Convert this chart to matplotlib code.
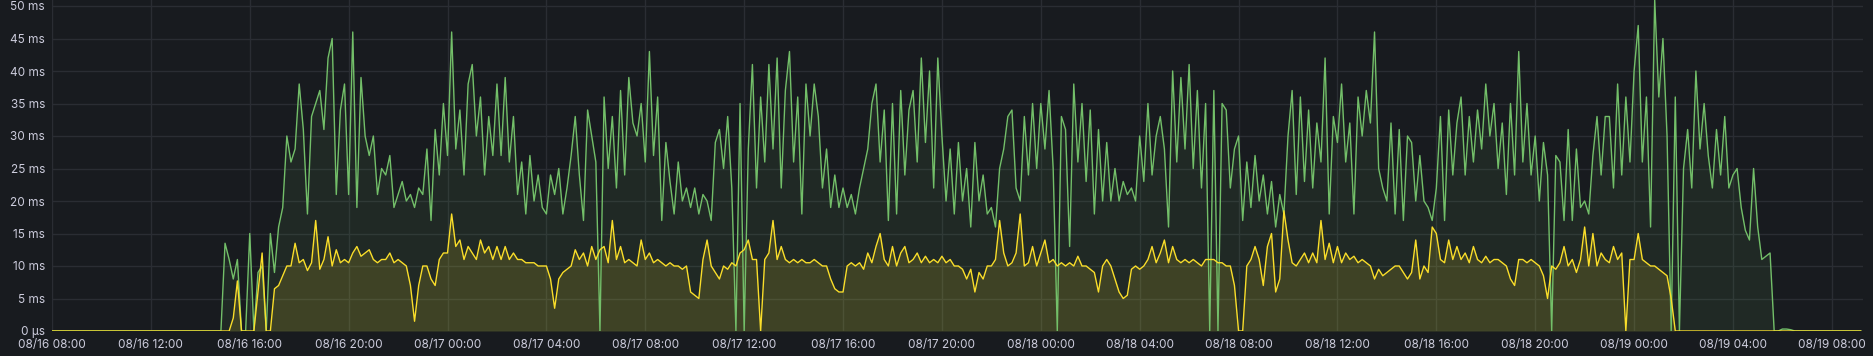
import matplotlib
matplotlib.use("Agg")
import matplotlib.pyplot as plt
import matplotlib.dates as mdates
from matplotlib.ticker import FuncFormatter, MultipleLocator
import numpy as np
import pandas as pd

# latency in ms, one value every 10 minutes
START = "2024-08-16 08:00"
idle_16 = [0] * 36  # 08:00-13:50, nothing recorded

green_16 = [  # 08/16 14:00 - 23:50
    0, 0, 0, 0, 0, 0,
    13.5, 11, 8, 11, 0, 0,
    15, 0, 9, 10, 0, 15,
    9, 16, 19, 30, 26, 28,
    38, 31, 18, 33, 35, 37,
    31, 42, 45, 21, 34, 38,
    21, 46, 19, 39, 30, 27,
    30, 21, 25, 24, 27, 19,
    21, 23, 20, 21, 19, 22,
    21, 28, 17, 31, 24, 35,
]
yellow_16 = [
    0, 0, 0, 0, 0, 0,
    0, 0, 2, 7.7, 0, 0,
    0, 0, 6, 12, 0, 0,
    6.5, 7, 8.5, 10, 10, 13.5,
    10.5, 11, 9.3, 10.5, 17, 9.5,
    11, 14.5, 10, 12.5, 10.5, 11,
    10.5, 12, 13, 11.5, 12, 12.5,
    11, 10.5, 11, 11, 12, 10.5,
    11, 10.5, 10, 7, 1.5, 7,
    10, 10, 8, 7, 11, 12,
]

green_17 = [
    27, 46, 28, 34, 24, 38,
    41, 30, 36, 24, 33, 27,
    38, 27, 39, 26, 33, 21,
    26, 18, 27, 20, 24, 19,
    18, 24, 21, 25, 18, 22,
    27, 33, 24, 17, 34, 30,
    26, 0, 36, 25, 33, 22,
    37, 24, 39, 32, 30, 35,
    26, 43, 27, 36, 17, 29,
    23, 18, 26, 20, 22, 19,
    22, 18, 21, 20, 17, 29,
    31, 25, 33, 22, 0, 35,
    0, 28, 41, 22, 36, 26,
    41, 28, 42, 22, 37, 43,
    26, 36, 18, 38, 30, 38,
    33, 22, 28, 19, 24, 19,
    22, 19, 21, 18, 22, 25,
    28, 35, 38, 26, 34, 17,
    35, 18, 37, 24, 34, 37,
    26, 42, 29, 40, 22, 42,
    30, 20, 28, 18, 29, 20,
    25, 16, 29, 20, 24, 18,
    19, 16, 25, 28, 33, 34,
    22, 20, 33, 24, 35, 25,
]
yellow_17 = [
    12, 18, 13, 14, 11, 13,
    12, 11, 14, 12, 13, 11,
    13, 11, 13, 11, 12, 11,
    11, 10.5, 10.5, 10.5, 10, 10,
    10, 8, 3.5, 8, 9, 9.5,
    10, 12.5, 11, 12, 10, 13,
    11, 12.5, 13, 10.5, 17, 11,
    13, 10.5, 11, 10.5, 10, 14,
    11, 12, 10.5, 11, 10.5, 10,
    10.5, 10, 10, 9.5, 10, 6,
    5.5, 5, 11, 14, 10, 9,
    8, 10, 9.5, 10.5, 10, 12,
    12.5, 14, 11, 11, 0, 11,
    12, 17, 11, 13, 11, 10.5,
    11, 10.5, 11, 10.5, 10.5, 11,
    10.5, 10, 10, 8, 6.5, 6,
    6, 10, 10.5, 10, 10.5, 9.5,
    12, 10.5, 13, 15, 11, 10,
    13, 10, 12, 13, 10.5, 11,
    12, 10.5, 11.5, 10.5, 11, 10.5,
    11.5, 10.5, 11, 10, 10, 9.5,
    8, 9.5, 6, 9, 8, 10,
    10, 11, 17, 12, 10, 10.5,
    12, 18, 10, 10.5, 13, 10,
]

green_18 = [
    35, 28, 37, 25, 0, 33,
    31, 13, 38, 26, 35, 23,
    34, 18, 31, 20, 29, 20,
    25, 20, 23, 21, 22, 20,
    30, 23, 35, 24, 30, 33,
    28, 16, 40, 26, 39, 28,
    41, 25, 37, 22, 35, 0,
    37, 0, 35, 34, 22, 28,
    30, 17, 26, 19, 27, 20,
    24, 18, 23, 16, 21, 18,
    30, 37, 21, 36, 23, 34,
    22, 32, 26, 42, 18, 33,
    29, 38, 26, 32, 18, 36,
    30, 37, 32, 46, 25, 22,
    20, 32, 18, 31, 17, 30,
    29, 20, 27, 20, 19, 17,
    22, 33, 17, 34, 24, 32,
    36, 24, 33, 26, 34, 28,
    38, 30, 35, 25, 32, 21,
    35, 24, 43, 26, 35, 24,
    30, 20, 29, 24, 0, 27,
    26, 17, 31, 17, 28, 19,
    20, 18, 27, 33, 24, 33,
    33, 22, 38, 24, 36, 26,
]
yellow_18 = [
    12, 14, 10.5, 11, 10, 10.5,
    10, 10.5, 10, 11.5, 10, 10,
    9.5, 9, 6, 10, 11, 10,
    8, 6, 5, 5.5, 9.5, 10,
    9.5, 10, 11, 13, 10.5, 12,
    14, 10.5, 13, 11, 10.5, 11,
    10.5, 11, 10.5, 10, 11, 11,
    11, 10.5, 10.5, 10, 10, 7,
    0, 0, 10, 11, 13, 11,
    7, 13, 15, 6, 8, 18.5,
    14, 10.5, 10, 11, 12, 10.5,
    12, 10.5, 17, 11, 13.5, 10.5,
    13, 10.5, 12, 11, 11.5, 10.5,
    11, 10.5, 10, 8, 9.5, 8.5,
    9, 9.5, 10, 10, 9, 8,
    9, 14, 8, 10, 9, 16,
    15, 11, 10.5, 14, 11, 13,
    11, 12, 10.5, 13, 11, 10.5,
    11.5, 10.5, 11, 11, 10.5, 10,
    8, 7, 11, 11, 10.5, 11,
    10.5, 10, 8.5, 5, 10, 9.5,
    10.5, 13, 10, 11, 9, 11,
    16, 10, 15, 10, 12, 11,
    10.5, 13, 11, 12, 0, 11,
]

green_19 = [  # 08/19 00:00 - 09:10
    40, 47, 26, 36, 16, 51,
    36, 45, 30, 0, 36, 0,
    25, 31, 22, 40, 28, 35,
    27, 22, 31, 24, 33, 22,
    24, 25, 19, 15.5, 14, 25,
    16, 11, 11.5, 12, 0, 0,
    0.3, 0.3, 0.2, 0, 0, 0,
    0, 0, 0, 0, 0, 0,
    0, 0, 0, 0, 0, 0,
    0, 0,
]
yellow_19 = [
    11, 15, 11, 10.5, 10, 10,
    9.5, 9, 8.5, 5, 0, 0,
    0, 0, 0, 0, 0, 0,
    0, 0, 0, 0, 0, 0,
    0, 0, 0, 0, 0, 0,
    0, 0, 0, 0, 0, 0,
    0, 0, 0, 0, 0, 0,
    0, 0, 0, 0, 0, 0,
    0, 0, 0, 0, 0, 0,
    0, 0,
]

green = np.array(idle_16 + green_16 + green_17 + green_18 + green_19, dtype=float)
yellow = np.array(idle_16 + yellow_16 + yellow_17 + yellow_18 + yellow_19, dtype=float)
assert len(green) == len(yellow)
times = pd.date_range(START, periods=len(green), freq="10min")

BG = "#181b1f"
GRID = "#2a2d33"
TEXT = "#ccccdc"
GREEN = "#73bf69"
YELLOW = "#fade2a"

plt.rcParams["font.family"] = ["Inter", "DejaVu Sans"]

fig = plt.figure(figsize=(18.73, 3.56), dpi=100, facecolor=BG)
W, H = 1873, 356
ax = fig.add_axes([52 / W, 25 / H, (1863 - 52) / W, 331 / H])
ax.set_facecolor(BG)

ax.fill_between(times, green, 0, color=GREEN, alpha=0.09, linewidth=0)
ax.fill_between(times, yellow, 0, color=YELLOW, alpha=0.14, linewidth=0)
ax.plot(times, green, color=GREEN, linewidth=1.0)
ax.plot(times, yellow, color=YELLOW, linewidth=1.0)

t0 = pd.Timestamp(START)
ax.set_xlim(t0, t0 + pd.Timedelta(hours=73.26))
ax.set_ylim(0, 331 / 6.5)

ax.xaxis.set_major_locator(mdates.HourLocator(byhour=range(0, 24, 4)))
ax.xaxis.set_major_formatter(mdates.DateFormatter("%m/%d %H:%M"))
ax.yaxis.set_major_locator(MultipleLocator(5))
ax.yaxis.set_major_formatter(
    FuncFormatter(lambda v, p: "0 µs" if v == 0 else f"{v:.0f} ms"))

ax.grid(True, color=GRID, linewidth=1)
ax.set_axisbelow(True)
for s in ax.spines.values():
    s.set_visible(False)
ax.tick_params(axis="both", length=0, colors=TEXT, labelsize=8.5)
ax.tick_params(axis="x", pad=6)
ax.tick_params(axis="y", pad=5)

fig.savefig("out.png", dpi=100, facecolor=BG)
